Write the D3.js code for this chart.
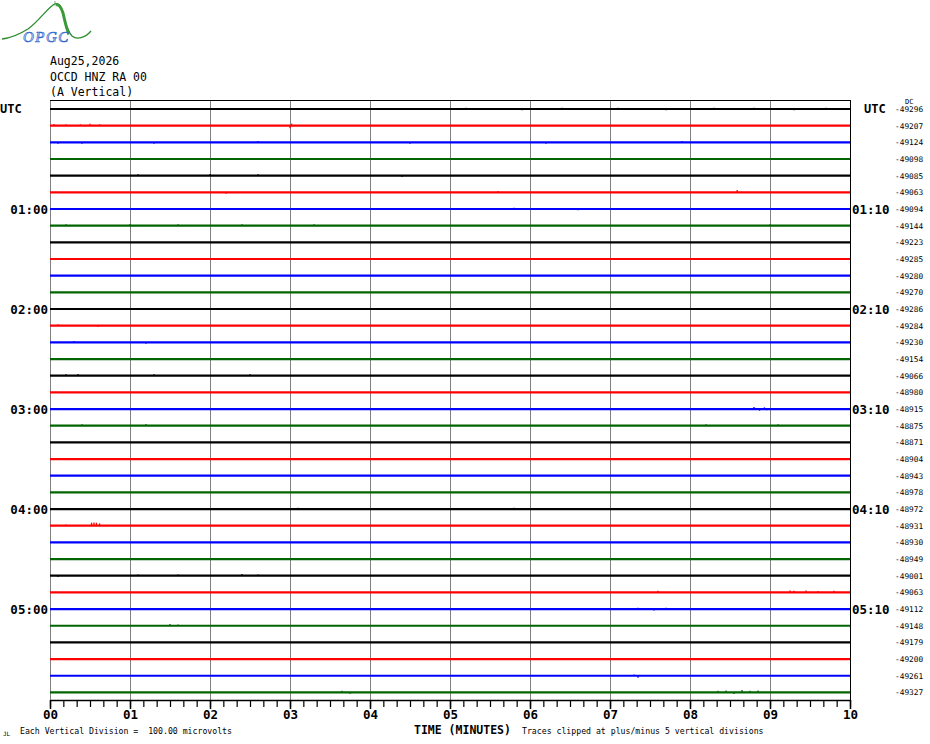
<!DOCTYPE html>
<html>
<head>
<meta charset="utf-8">
<script src="https://cdn.jsdelivr.net/npm/d3@7"></script>
<style>
  body { margin: 0; background: #fff; }
  svg { display: block; }
</style>
</head>
<body>
<svg id="chart"></svg>
<script>
const SVG_WIDTH = 930;
const SVG_HEIGHT = 744;

// header
const headerLines = ["Aug25,2026", "OCCD HNZ RA 00", "(A Vertical)"];

// one trace per 10 minutes, colours cycle black/red/blue/green
const traceColors = ["#000000", "#ff0000", "#0000ff", "#006400"];
const traceCount = 36;

// dc offset printed at the right of each trace
const dcValues = [-49296, -49207, -49124, -49098, -49085, -49063, -49094, -49144, -49223,
  -49285, -49280, -49270, -49286, -49284, -49230, -49154, -49066, -48980, -48915, -48875,
  -48871, -48904, -48943, -48978, -48972, -48931, -48930, -48949, -49001, -49063, -49112,
  -49148, -49179, -49200, -49261, -49327];

// hour labels
const hourRows = [6, 12, 18, 24, 30];
const leftHours = ["01:00", "02:00", "03:00", "04:00", "05:00"];
const rightHours = ["01:10", "02:10", "03:10", "04:10", "05:10"];

// x axis
const minuteTicks = [0, 1, 2, 3, 4, 5, 6, 7, 8, 9, 10];
const minuteLabels = ["00", "01", "02", "03", "04", "05", "06", "07", "08", "09", "10"];

// spikes: [trace, minute, microvolts]
const spikes = [
  [0, 5.2, 8], [0, 5.9, -8], [0, 6.4, 8], [0, 7.1, 8], [0, 7.7, -8], [0, 8.3, 8], [0, 8.8, 8], [0, 9.3, -8], [0, 9.7, 8],
  [1, 0.05, 10], [1, 0.2, 8], [1, 0.38, 8], [1, 0.5, 12], [1, 0.62, 8], [1, 3.0, -15], [1, 3.02, 12],
  [2, 0.1, -8], [2, 0.4, -8], [2, 1.3, -8], [2, 2.6, 8], [2, 4.5, -8], [2, 6.2, -8], [2, 7.9, 8],
  [4, 1.1, 8], [4, 2.0, 10], [4, 2.6, 8], [4, 4.4, -8],
  [5, 8.59, 14], [5, 2.2, -8], [5, 5.6, 8],
  [6, 5.8, 8], [6, 6.6, -8],
  [7, 0.2, 8], [7, 1.0, 10], [7, 1.6, 8], [7, 2.4, 8], [7, 3.3, 8], [7, 9.0, 8],
  [13, 0.1, 8], [13, 0.6, -8], [14, 0.3, 8], [14, 1.2, -8],
  [16, 0.2, 8], [16, 0.35, 10], [16, 1.3, 8], [16, 2.5, 8],
  [18, 8.8, 12], [18, 8.87, -10], [18, 8.93, 10], [18, 8.96, -8],
  [19, 0.4, 8], [19, 1.2, 10], [19, 8.2, 8], [19, 9.1, 8],
  [24, 3.1, 8], [24, 5.8, 8],
  [25, 0.52, 18], [25, 0.55, 20], [25, 0.58, 18], [25, 0.62, 14], [25, 0.2, 8],
  [28, 0.1, -8], [28, 1.1, 8], [28, 1.6, 8], [28, 2.4, 10], [28, 2.6, 8],
  [29, 7.6, 10], [29, 9.25, 12], [29, 9.3, 10], [29, 9.45, 12], [29, 9.6, 8], [29, 9.8, 10],
  [30, 7.35, 8], [30, 7.55, -8], [30, 7.7, 8],
  [31, 1.5, 10], [31, 1.6, 8],
  [34, 7.3, 8], [34, 7.35, -12],
  [35, 3.65, 10], [35, 3.75, -8], [35, 8.35, 10], [35, 8.45, 12], [35, 8.55, -10], [35, 8.65, 14], [35, 8.75, 10], [35, 8.85, 12]
];

const svg = d3.select("#chart")
  .attr("width", SVG_WIDTH)
  .attr("height", SVG_HEIGHT);

const x = d3.scaleLinear().domain([0, 10]).range([50, 850]);
const y = d3.scaleLinear().domain([0, traceCount - 1]).range([109, 692.4]);
// each vertical division is 100 microvolts = one trace spacing
const amp = d3.scaleLinear().domain([0, 100]).range([0, -16.67]);

// logo
const logo = svg.append("g");
logo.append("path")
  .attr("d", "M2,39 C12,38 20,34 28,29 C38,22 46,10 53,5 C57,2 60,4 62,11 C65,20 67,31 72,36 C77,40 85,38 91,31")
  .attr("fill", "none").attr("stroke", "#2e8b2e").attr("stroke-width", 1.3);
logo.append("path")
  .attr("d", "M56,5 C59,4 61,7 63,13 C65,21 66,28 69,34")
  .attr("fill", "none").attr("stroke", "#3a9a3a").attr("stroke-width", 3);
logo.append("line").attr("x1", 55).attr("x2", 55).attr("y1", 1).attr("y2", 6)
  .attr("stroke", "#5a9a5a").attr("stroke-width", 0.8);
logo.append("text")
  .attr("x", 23).attr("y", 42)
  .attr("font-family", "Liberation Serif")
  .attr("font-style", "italic")
  .attr("font-size", 15)
  .attr("fill", "#d8e8ff").attr("stroke", "#3366cc").attr("stroke-width", 0.7)
  .attr("letter-spacing", 1.5)
  .text("OPGC");

// header text
svg.append("g").selectAll("text")
  .data(headerLines)
  .enter()
  .append("text")
  .attr("x", 50)
  .attr("y", (d, i) => 65 + i * 15.5)
  .attr("font-family", "DejaVu Sans Mono")
  .attr("font-size", 11.5)
  .attr("fill", "#000")
  .text(d => d);

// vertical grid
svg.append("g").selectAll("line")
  .data(minuteTicks)
  .enter()
  .append("line")
  .attr("x1", d => x(d)).attr("x2", d => x(d))
  .attr("y1", 100).attr("y2", 700)
  .attr("stroke", d => d === 10 ? "#000" : "#808080")
  .attr("stroke-width", 1)
  .attr("shape-rendering", "crispEdges");

svg.append("line")
  .attr("x1", x(0)).attr("x2", x(10))
  .attr("y1", 100.5).attr("y2", 100.5)
  .attr("stroke", "#000").attr("stroke-width", 1);

// traces
const traces = d3.range(traceCount);
svg.append("g").selectAll("line")
  .data(traces)
  .enter()
  .append("line")
  .attr("x1", x(0)).attr("x2", x(10))
  .attr("y1", d => y(d)).attr("y2", d => y(d))
  .attr("stroke", d => traceColors[d % 4])
  .attr("stroke-width", 2.2);

svg.append("g").selectAll("line")
  .data(spikes)
  .enter()
  .append("line")
  .attr("x1", d => x(d[1])).attr("x2", d => x(d[1]))
  .attr("y1", d => y(d[0]))
  .attr("y2", d => y(d[0]) + amp(d[2]))
  .attr("stroke", d => traceColors[d[0] % 4])
  .attr("stroke-width", 1.3);

// left/right hour labels
const labelFont = "DejaVu Sans Mono";
svg.append("text")
  .attr("x", 0).attr("y", y(0) + 4)
  .attr("font-family", labelFont).attr("font-weight", "bold").attr("font-size", 12)
  .text("UTC");
svg.append("text")
  .attr("x", 864).attr("y", y(0) + 4)
  .attr("font-family", labelFont).attr("font-weight", "bold").attr("font-size", 12)
  .text("UTC");

svg.append("g").selectAll("text")
  .data(hourRows)
  .enter()
  .append("text")
  .attr("x", 48)
  .attr("y", d => y(d) + 4.5)
  .attr("text-anchor", "end")
  .attr("font-family", labelFont).attr("font-weight", "bold").attr("font-size", 12.5)
  .text((d, i) => leftHours[i]);

svg.append("g").selectAll("text")
  .data(hourRows)
  .enter()
  .append("text")
  .attr("x", 852)
  .attr("y", d => y(d) + 4.5)
  .attr("font-family", labelFont).attr("font-weight", "bold").attr("font-size", 12.5)
  .text((d, i) => rightHours[i]);

// dc values
svg.append("text")
  .attr("x", 905).attr("y", 104)
  .attr("font-family", labelFont).attr("font-size", 7)
  .text("DC");
svg.append("g").selectAll("text")
  .data(dcValues)
  .enter()
  .append("text")
  .attr("x", 895)
  .attr("y", (d, i) => y(i) + 3)
  .attr("font-family", labelFont)
  .attr("font-size", 7.8)
  .text(d => "-" + Math.abs(d));

// bottom axis
const minorTicks = d3.range(0, 61).map(d => d / 6);
const axisG = svg.append("g").attr("transform", "translate(0,700)");
axisG.call(d3.axisBottom(x).tickValues(minorTicks).tickSize(7).tickSizeOuter(0).tickFormat(""));
axisG.select(".domain").attr("stroke", "#000").attr("stroke-width", 1.5);
axisG.selectAll(".tick line").attr("stroke", "#000").attr("stroke-width", 1.2);

const majorG = svg.append("g").attr("transform", "translate(0,700)");
majorG.call(d3.axisBottom(x).tickValues(minuteTicks).tickSize(9).tickSizeOuter(0)
  .tickFormat((d, i) => minuteLabels[i]));
majorG.select(".domain").remove();
majorG.selectAll(".tick line").attr("stroke", "#000").attr("stroke-width", 1.5);
majorG.selectAll(".tick text")
  .attr("y", 10)
  .attr("dy", "0.72em")
  .attr("fill", "#000")
  .attr("font-family", labelFont)
  .attr("font-weight", "bold")
  .attr("font-size", 12.5);

svg.append("text")
  .attr("x", 414).attr("y", 734)
  .attr("font-family", labelFont).attr("font-weight", "bold").attr("font-size", 11.5)
  .text("TIME (MINUTES)");

svg.append("text")
  .attr("x", 20).attr("y", 734)
  .attr("font-family", labelFont).attr("font-size", 8.2)
  .attr("xml:space", "preserve")
  .text("Each Vertical Division =  100.00 microvolts");

svg.append("text")
  .attr("x", 522).attr("y", 734)
  .attr("font-family", labelFont).attr("font-size", 8.2)
  .text("Traces clipped at plus/minus 5 vertical divisions");

svg.append("text")
  .attr("x", 3).attr("y", 736)
  .attr("font-family", labelFont).attr("font-size", 6)
  .text("JL");
</script>
</body>
</html>
